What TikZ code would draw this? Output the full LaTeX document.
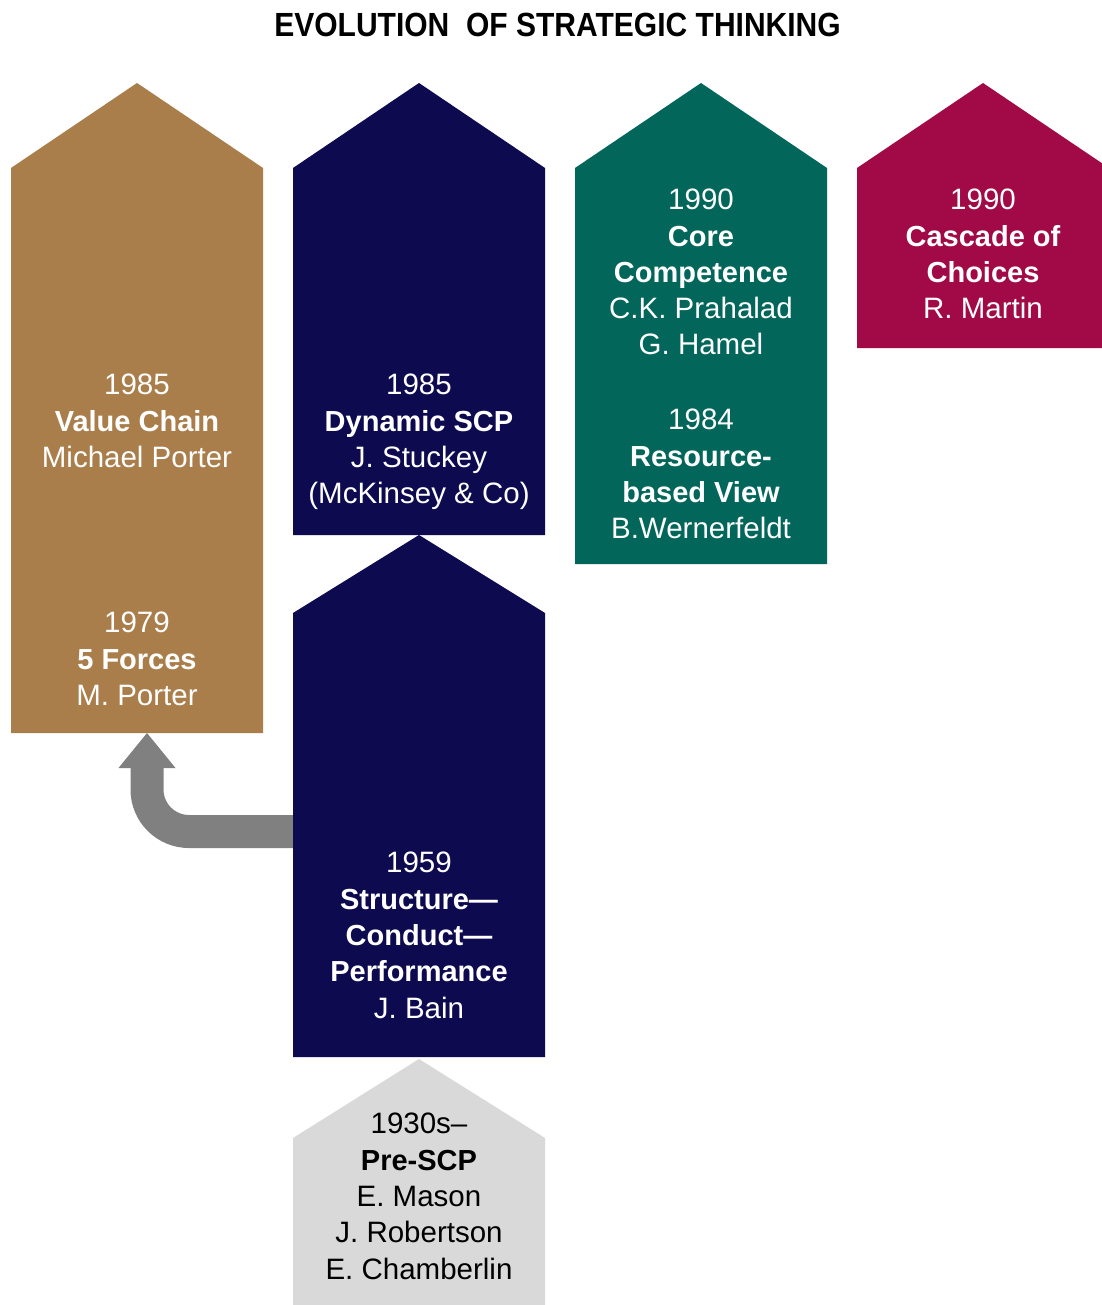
\documentclass[tikz,border=0pt]{standalone}
\usepackage{fontspec}
\setmainfont{Liberation Sans}
\usetikzlibrary{calc}
\definecolor{cbrown}{RGB}{169,126,75}
\definecolor{cnavy}{RGB}{14,10,80}
\definecolor{cteal}{RGB}{3,102,90}
\definecolor{cmaroon}{RGB}{161,10,71}
\definecolor{cgraybox}{RGB}{217,217,217}
\definecolor{carrow}{RGB}{128,128,128}
\newcommand\bname[1]{{\fontsize{29}{36.3}\selectfont\bfseries #1}}
\begin{document}
\begin{tikzpicture}[x=1pt,y=-1pt,
  txt/.style={anchor=north, inner sep=0pt, align=center, text=white,
    font=\fontsize{29.5}{36.3}\selectfont},
  darktxt/.style={txt, text=black}]
\useasboundingbox (0,0) rectangle (1101,1305);
\fill[white] (0,0) rectangle (1101,1305);

% title
\node[anchor=base, inner sep=0pt, font=\fontsize{33.5}{40}\selectfont\bfseries] (title) at (557.5,37)
  {\scalebox{0.896}[1]{EVOLUTION\ \ OF STRATEGIC THINKING}};

% arrow from SCP to 5 Forces
\coordinate (arrowstart) at (300,831.5);
\coordinate (arrowend) at (147,733);
\draw[carrow, line width=33pt, rounded corners=42pt]
  (arrowstart) -- (arrowstart -| arrowend) -- ($(arrowend)+(0,34)$);
\fill[carrow] (arrowend) -- ($(arrowend)+(-28.5,35)$) -- ($(arrowend)+(28.5,35)$) -- cycle;

% shapes
\fill[cbrown] (11,733) -- (11,168) -- (137,83) -- (263,168) -- (263,733) -- cycle;
\fill[cnavy] (293,535) -- (293,168) -- (419,83) -- (545,168) -- (545,535) -- cycle;
\fill[cnavy] (293,1057) -- (293,613) -- (419,535) -- (545,613) -- (545,1057) -- cycle;
\fill[cgraybox] (293,1310) -- (293,1138) -- (419,1059) -- (545,1138) -- (545,1310) -- cycle;
\fill[cteal] (575,564) -- (575,168) -- (701,83) -- (827,168) -- (827,564) -- cycle;
\fill[cmaroon] (857,348) -- (857,168) -- (983,83) -- (1109,168) -- (1109,348) -- cycle;

% texts
\node[txt] (valuechain) at (137,374) {1985\\\bname{Value Chain}\\Michael Porter};
\node[txt] (fiveforces) at (137,612) {1979\\\bname{5 Forces}\\M. Porter};
\node[txt] (dynscp) at (419,374) {1985\\\bname{Dynamic SCP}\\J. Stuckey\\(McKinsey \& Co)};
\node[txt] (scp) at (419,852) {1959\\\bname{Structure—}\\\bname{Conduct—}\\\bname{Performance}\\J. Bain};
\node[darktxt] (prescp) at (419,1113) {1930s–\\\bname{Pre-SCP}\\E. Mason\\J. Robertson\\E. Chamberlin};
\node[txt] (core) at (701,189) {1990\\\bname{Core}\\\bname{Competence}\\C.K. Prahalad\\G. Hamel};
\node[txt] (rbv) at (701,409) {1984\\\bname{Resource-}\\\bname{based View}\\B.Wernerfeldt};
\node[txt] (cascade) at (983,189) {1990\\\bname{Cascade of}\\\bname{Choices}\\R. Martin};
\end{tikzpicture}
\end{document}
